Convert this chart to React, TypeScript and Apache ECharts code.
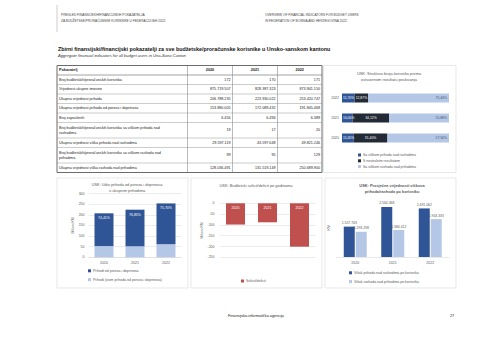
import React, { useEffect, useRef } from 'react';
import * as echarts from 'echarts';

// ---------- data ----------
const years = ['2020', '2021', '2022'];

const tableHeader = ['Pokazatelj', '2020', '2021', '2022'];
const rowLabels = [
  'Broj budžetskih/proračunskih korisnika',
  'Vrijednost ukupne imovine',
  'Ukupna vrijednost prihoda',
  'Ukupna vrijednost prihoda od poreza i doprinosa',
  'Broj zaposlenih',
  'Broj budžetskih/proračunskih korisnika sa viškom prihoda nad\nrashodima',
  'Ukupna vrijednost viška prihoda nad rashodima',
  'Broj budžetskih/proračunskih korisnika sa viškom rashoda nad\nprihodima',
  'Ukupna vrijednost viška rashoda nad prihodima',
];
const values2020 = ['172', '875.719.507', '206.788.235', '153.880.005', '6.456', '19', '29.597.119', '99', '128.036.491'];
const values2021 = ['170', '828.387.323', '223.930.022', '172.089.432', '6.494', '17', '43.597.648', '95', '131.519.149'];
const values2022 = ['171', '873.941.150', '253.420.747', '191.845.468', '6.389', '20', '49.821.246', '129', '250.689.900'];

const taxRevenueM = [153.9, 172.1, 191.8];
const otherRevenueM = [52.9, 51.8, 61.6];
const taxShareLabels = ['74,41%', '76,85%', '75,70%'];

const balanceM = [-98.4, -87.9, -200.9];

const shareSurplus = [11.05, 10.0, 11.7];
const shareNeutral = [31.4, 34.12, 12.87];
const shareDeficit = [57.56, 55.88, 75.44];

const avgSurplus = [1557743, 2564368, 2491062];
const avgDeficit = [1293298, 1384412, 1943333];

// ---------- style ----------
const FONT = 'Liberation Sans, Arial, sans-serif';
const DARK = '#2F5597';
const LIGHT = '#B4C7E7';
const NAVY = '#222A35';
const RED = '#C0504D';
const GRAY = '#595959';
const GRID = '#D9D9D9';

const dots = (v: number) => String(Math.round(v)).replace(/\B(?=(\d{3})+(?!\d))/g, '.');
const pct = (v: number) => v.toFixed(2).replace('.', ',') + '%';

function txt(text: string, x: number, y: number, o: any = {}) {
  return {
    type: 'text',
    x,
    y,
    silent: true,
    style: {
      text,
      fill: o.fill || '#222',
      fontSize: o.size || 3.8,
      fontFamily: FONT,
      fontWeight: o.weight || 'normal',
      fontStyle: o.style || 'normal',
      align: o.align || 'left',
      textAlign: o.align || 'left',
      verticalAlign: 'middle',
      textVerticalAlign: 'middle',
      lineHeight: o.lh || 4.6,
    },
  };
}
function ln(x1: number, y1: number, x2: number, y2: number, color: string, w: number) {
  return { type: 'line', silent: true, shape: { x1, y1, x2, y2 }, style: { stroke: color, lineWidth: w } };
}
function box(x: number, y: number, w: number, h: number) {
  return { type: 'rect', silent: true, shape: { x, y, width: w, height: h }, style: { fill: 'none', stroke: GRID, lineWidth: 0.6 } };
}

function buildGraphic() {
  const g: any[] = [];
  // header
  g.push(ln(57, 5, 57, 32, '#999', 0.5));
  g.push(txt('PREGLED FINANSIJSKIH/FINANCIJSKIH POKAZATELJA', 61, 15, { size: 3.2, fill: '#444' }));
  g.push(txt('ZA BUDŽETSKE/PRORAČUNSKE KORISNIKE U FEDERACIJI BiH 2022.', 61, 20.5, { size: 3.2, fill: '#444' }));
  g.push(txt('OVERVIEW OF FINANCIAL INDICATORS FOR BUDGET USERS', 265, 15, { size: 3.2, fill: '#444' }));
  g.push(txt('IN FEDERATION OF BOSNIA AND HERZEGOVINA 2022.', 265, 20.5, { size: 3.2, fill: '#444' }));
  // title
  g.push(txt('Zbirni finansijski/financijski pokazatelji za sve budžetske/proračunske korisnike u Unsko-sanskom kantonu', 58, 48.5, { size: 5.35, weight: 'bold', fill: '#111' }));
  g.push(txt('Aggregate financial indicators for all budget users in Una-Sana Canton', 58, 55, { size: 4.1, style: 'italic', fill: '#333' }));

  // table
  const cols = [57, 187.5, 232.5, 277.5, 322];
  const heights = [9.5, 9.5, 9.5, 9.5, 9.5, 9.5, 15.5, 9.5, 15.5, 9.5];
  let y = 65.5;
  const rowsY: number[] = [y];
  heights.forEach((h) => { y += h; rowsY.push(y); });
  const top = rowsY[0];
  const bottom = rowsY[rowsY.length - 1];
  for (let i = 1; i < rowsY.length - 1; i++) {
    g.push(ln(cols[0], rowsY[i], cols[4], rowsY[i], '#8c8c8c', i === 1 ? 0.8 : 0.45));
  }
  for (let c = 1; c < cols.length - 1; c++) g.push(ln(cols[c], top, cols[c], bottom, '#8c8c8c', 0.6));
  g.push({ type: 'rect', silent: true, shape: { x: cols[0], y: top, width: cols[4] - cols[0], height: bottom - top }, style: { fill: 'none', stroke: '#6b6b6b', lineWidth: 1 } });
  const hc = (rowsY[0] + rowsY[1]) / 2;
  g.push(txt(tableHeader[0], 59, hc, { weight: 'bold', size: 3.8 }));
  for (let c = 1; c < 4; c++) g.push(txt(tableHeader[c], (cols[c] + cols[c + 1]) / 2, hc, { weight: 'bold', align: 'center', size: 3.8 }));
  rowLabels.forEach((lab, i) => {
    const cy = (rowsY[i + 1] + rowsY[i + 2]) / 2;
    g.push(txt(lab, 59, cy, { size: 3.7 }));
    g.push(txt(values2020[i], cols[2] - 2, cy, { size: 3.7, align: 'right' }));
    g.push(txt(values2021[i], cols[3] - 2, cy, { size: 3.7, align: 'right' }));
    g.push(txt(values2022[i], cols[4] - 2, cy, { size: 3.7, align: 'right' }));
  });

  // chart boxes
  g.push(box(323.5, 65.5, 132.5, 107));
  g.push(box(57, 178, 131, 110));
  g.push(box(191, 178, 131, 110));
  g.push(box(325, 178, 131, 110));

  // chart titles
  g.push(txt('USK: Struktura broja korisnika prema', 389, 73.5, { size: 3.9, fill: GRAY, align: 'center' }));
  g.push(txt('ostvarenom rezultatu poslovanja', 389, 79, { size: 3.9, fill: GRAY, align: 'center' }));
  g.push(txt('USK: Udio prihoda od poreza i doprinosa', 127, 184, { size: 3.9, fill: GRAY, align: 'center' }));
  g.push(txt('u ukupnim prihodima', 127, 190, { size: 3.9, fill: GRAY, align: 'center' }));
  g.push(txt('USK: Budžetski suficit/deficit po godinama', 256, 185, { size: 3.9, fill: GRAY, align: 'center' }));
  g.push(txt('USK: Prosječne vrijednosti viškova', 392, 185, { size: 3.9, fill: GRAY, align: 'center', weight: 'bold' }));
  g.push(txt('prihoda/rashoda po korisniku', 392, 191.5, { size: 3.9, fill: GRAY, align: 'center', weight: 'bold' }));

  // footer
  g.push(txt('Finansijsko-informatička agencija', 256, 316, { size: 3.8, fill: '#222', align: 'center' }));
  g.push(txt('27', 452, 316, { size: 3.8, fill: '#222', align: 'center' }));
  return g;
}

const axisLabelStyle = { fontSize: 3.5, color: GRAY, fontFamily: FONT };

export default function App() {
  const ref = useRef<HTMLDivElement>(null);
  useEffect(() => {
    if (!ref.current) return;
    const chart = echarts.init(ref.current, null, { renderer: 'svg', width: 480, height: 339 });
    const option: any = {
      animation: false,
      backgroundColor: '#ffffff',
      textStyle: { fontFamily: FONT },
      graphic: { elements: buildGraphic() },
      grid: [
        { left: 88.5, top: 193.5, width: 93, height: 63.8 },
        { left: 219.5, top: 203.3, width: 96, height: 54 },
        { left: 342, top: 88, width: 107, height: 60 },
        { left: 336.5, top: 198.5, width: 112.5, height: 58.5 },
      ],
      xAxis: [
        {
          gridIndex: 0, type: 'category', data: years,
          axisLine: { lineStyle: { color: GRID, width: 0.6 } }, axisTick: { show: false },
          axisLabel: { ...axisLabelStyle, margin: 4 },
        },
        { gridIndex: 1, type: 'category', data: years, show: false },
        { gridIndex: 2, type: 'value', min: 0, max: 100, show: false },
        {
          gridIndex: 3, type: 'category', data: years,
          axisLine: { lineStyle: { color: GRID, width: 0.6 } }, axisTick: { show: false },
          axisLabel: { ...axisLabelStyle, margin: 4 },
        },
      ],
      yAxis: [
        {
          gridIndex: 0, type: 'value', min: 0, max: 300, interval: 50,
          name: 'Milioni KM', nameLocation: 'middle', nameGap: 11.5, nameRotate: 90,
          nameTextStyle: { fontSize: 3.5, color: GRAY },
          axisLine: { show: false }, axisTick: { show: false },
          axisLabel: { ...axisLabelStyle, margin: 4 },
          splitLine: { lineStyle: { color: GRID, width: 0.5 } },
        },
        {
          gridIndex: 1, type: 'value', min: -250, max: 0, interval: 50,
          name: 'Milioni KM', nameLocation: 'middle', nameGap: 16, nameRotate: 90,
          nameTextStyle: { fontSize: 3.5, color: GRAY },
          axisLine: { show: false }, axisTick: { show: false },
          axisLabel: { ...axisLabelStyle, margin: 5 },
          splitLine: { lineStyle: { color: GRID, width: 0.5 } },
        },
        {
          gridIndex: 2, type: 'category', data: years,
          axisLine: { show: false }, axisTick: { show: false },
          axisLabel: { ...axisLabelStyle, margin: 3 },
        },
        {
          gridIndex: 3, type: 'value', min: 0, max: 3000000,
          name: 'KM', nameLocation: 'middle', nameGap: 6, nameRotate: 90,
          nameTextStyle: { fontSize: 3.5, color: GRAY },
          axisLine: { show: false }, axisTick: { show: false },
          axisLabel: { show: false }, splitLine: { show: false },
        },
      ],
      legend: [
        {
          data: ['Prihodi od poreza i doprinosa', 'Prihodi (osim prihoda od poreza i doprinosa)'],
          orient: 'vertical', left: 88, top: 268.8, padding: 0, itemGap: 4.8,
          itemWidth: 3, itemHeight: 3, icon: 'rect', selectedMode: false,
          textStyle: { fontSize: 3.5, color: GRAY, padding: [0, 0, 0, -3] },
        },
        {
          data: ['Suficit/deficit'],
          orient: 'horizontal', left: 241, top: 279, padding: 0,
          itemWidth: 3, itemHeight: 3, icon: 'rect', selectedMode: false,
          textStyle: { fontSize: 3.5, color: GRAY, padding: [0, 0, 0, -3] },
        },
        {
          data: ['Sa viškom prihoda nad rashodima', 'S neutralnim rezultatom', 'Sa viškom rashoda nad prihodima'],
          orient: 'vertical', left: 358, top: 153, padding: 0, itemGap: 1.8,
          itemWidth: 3, itemHeight: 3, icon: 'rect', selectedMode: false,
          textStyle: { fontSize: 3.5, color: GRAY, padding: [0, 0, 0, -3] },
        },
        {
          data: ['Višak prihoda nad rashodima po korisniku', 'Višak rashoda nad prihodima po korisniku'],
          orient: 'vertical', left: 349, top: 270.8, padding: 0, itemGap: 4.8,
          itemWidth: 3, itemHeight: 3, icon: 'rect', selectedMode: false,
          textStyle: { fontSize: 3.5, color: GRAY, padding: [0, 0, 0, -3] },
        },
      ],
      series: [
        {
          name: 'Prihodi (osim prihoda od poreza i doprinosa)', type: 'bar', stack: 'rev',
          xAxisIndex: 0, yAxisIndex: 0, barWidth: 19, data: otherRevenueM,
          itemStyle: { color: LIGHT },
        },
        {
          name: 'Prihodi od poreza i doprinosa', type: 'bar', stack: 'rev',
          xAxisIndex: 0, yAxisIndex: 0, barWidth: 19, data: taxRevenueM,
          itemStyle: { color: DARK },
          label: {
            show: true, position: 'insideTop', distance: 3, fontSize: 3.5, color: '#fff',
            formatter: (p: any) => taxShareLabels[p.dataIndex],
          },
        },
        {
          name: 'Suficit/deficit', type: 'bar', xAxisIndex: 1, yAxisIndex: 1, barWidth: 19,
          data: balanceM, itemStyle: { color: RED },
          label: { show: true, position: 'insideTop', distance: 3, fontSize: 3.5, color: '#fff', formatter: '{b}' },
        },
        {
          name: 'Sa viškom prihoda nad rashodima', type: 'bar', stack: 'str',
          xAxisIndex: 2, yAxisIndex: 2, barWidth: 9, data: shareSurplus,
          itemStyle: { color: DARK },
          label: { show: true, position: 'insideLeft', distance: 1, fontSize: 3.4, color: '#fff', formatter: (p: any) => pct(p.value) },
        },
        {
          name: 'S neutralnim rezultatom', type: 'bar', stack: 'str',
          xAxisIndex: 2, yAxisIndex: 2, barWidth: 9, data: shareNeutral,
          itemStyle: { color: NAVY },
          label: { show: true, position: 'inside', fontSize: 3.4, color: '#fff', formatter: (p: any) => pct(p.value) },
        },
        {
          name: 'Sa viškom rashoda nad prihodima', type: 'bar', stack: 'str',
          xAxisIndex: 2, yAxisIndex: 2, barWidth: 9, data: shareDeficit,
          itemStyle: { color: LIGHT },
          label: { show: true, position: 'insideRight', distance: 2, fontSize: 3.4, color: '#44546A', formatter: (p: any) => pct(p.value) },
        },
        {
          name: 'Višak prihoda nad rashodima po korisniku', type: 'bar',
          xAxisIndex: 3, yAxisIndex: 3, barWidth: 11, barGap: '9%', data: avgSurplus,
          itemStyle: { color: DARK },
          label: { show: true, position: 'top', distance: 2, fontSize: 3.4, color: GRAY, formatter: (p: any) => dots(p.value) },
        },
        {
          name: 'Višak rashoda nad prihodima po korisniku', type: 'bar',
          xAxisIndex: 3, yAxisIndex: 3, barWidth: 11, barGap: '9%', data: avgDeficit,
          itemStyle: { color: LIGHT },
          label: { show: true, position: 'top', distance: 2, fontSize: 3.4, color: GRAY, formatter: (p: any) => dots(p.value) },
        },
      ],
    };
    chart.setOption(option);
    return () => chart.dispose();
  }, []);
  return (
    <div
      ref={ref}
      style={{ position: 'fixed', left: 0, top: 0, width: 480, height: 339, background: '#fff' }}
    />
  );
}
